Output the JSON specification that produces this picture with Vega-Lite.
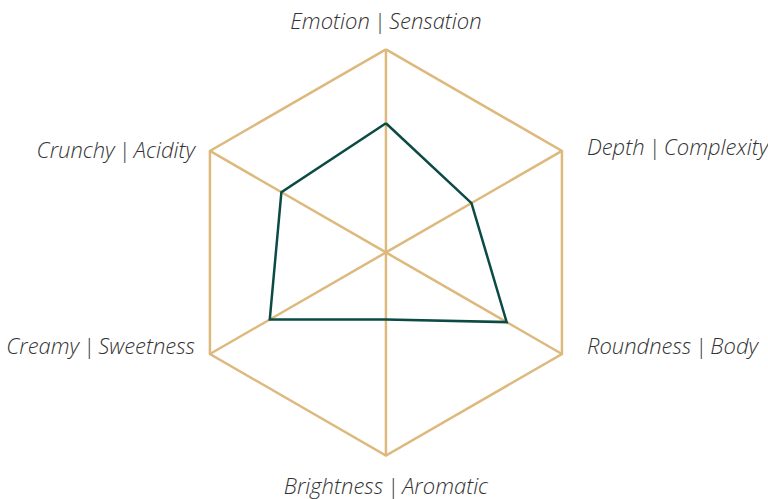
{
  "$schema": "https://vega.github.io/schema/vega-lite/v6.json",
  "width": 768,
  "height": 499,
  "autosize": {"type": "fit", "contains": "padding"},
  "padding": 0,
  "background": "white",
  "config": {"view": {"stroke": null}},
  "datasets": {
    "scores": [
      {"axis": "Emotion | Sensation", "i": 0, "score": 6.36},
      {"axis": "Depth | Complexity", "i": 1, "score": 4.86},
      {"axis": "Roundness | Body", "i": 2, "score": 6.86},
      {"axis": "Brightness | Aromatic", "i": 3, "score": 3.3},
      {"axis": "Creamy | Sweetness", "i": 4, "score": 6.6},
      {"axis": "Crunchy | Acidity", "i": 5, "score": 5.94},
      {"axis": "Emotion | Sensation", "i": 6, "score": 6.36}
    ],
    "axes": [
      {"axis": "Emotion\u2009|\u2009Sensation", "i": 0, "side": "top"},
      {"axis": "Depth\u2009|\u2009Complexity", "i": 1, "side": "right"},
      {"axis": "Roundness\u2009|\u2009Body", "i": 2, "side": "right"},
      {"axis": "Brightness\u2009|\u2009Aromatic", "i": 3, "side": "bottom"},
      {"axis": "Creamy\u2009|\u2009Sweetness", "i": 4, "side": "left"},
      {"axis": "Crunchy\u2009|\u2009Acidity", "i": 5, "side": "left"},
      {"axis": "Emotion\u2009|\u2009Sensation", "i": 6, "side": "none"}
    ]
  },
  "layer": [
    {
      "data": {"name": "axes"},
      "transform": [
        {"calculate": "sin(datum.i * PI / 3)", "as": "x"},
        {"calculate": "cos(datum.i * PI / 3)", "as": "y"}
      ],
      "mark": {"type": "line", "stroke": "#DDB97D", "strokeWidth": 2.5, "strokeJoin": "miter", "interpolate": "linear"},
      "encoding": {
        "x": {"field": "x", "type": "quantitative", "scale": {"domain": [-1.899, 1.875], "nice": false, "zero": false}, "axis": null},
        "y": {"field": "y", "type": "quantitative", "scale": {"domain": [-1.209, 1.243], "nice": false, "zero": false}, "axis": null},
        "order": {"field": "i", "type": "quantitative"}
      }
    },
    {
      "data": {"name": "axes"},
      "transform": [
        {"filter": "datum.i < 6"},
        {"calculate": "sin(datum.i * PI / 3)", "as": "x"},
        {"calculate": "cos(datum.i * PI / 3)", "as": "y"},
        {"calculate": "0", "as": "x0"},
        {"calculate": "0", "as": "y0"}
      ],
      "mark": {"type": "rule", "stroke": "#DDB97D", "strokeWidth": 2.5},
      "encoding": {
        "x": {"field": "x0", "type": "quantitative"},
        "y": {"field": "y0", "type": "quantitative"},
        "x2": {"field": "x"},
        "y2": {"field": "y"}
      }
    },
    {
      "data": {"name": "scores"},
      "transform": [
        {"calculate": "datum.score / 10 * sin(datum.i * PI / 3)", "as": "x"},
        {"calculate": "datum.score / 10 * cos(datum.i * PI / 3)", "as": "y"}
      ],
      "mark": {"type": "line", "stroke": "#0B4A45", "strokeWidth": 2.5, "strokeJoin": "miter"},
      "encoding": {
        "x": {"field": "x", "type": "quantitative"},
        "y": {"field": "y", "type": "quantitative"},
        "order": {"field": "i", "type": "quantitative"}
      }
    },
    {
      "data": {"name": "axes"},
      "transform": [
        {"filter": "datum.side == 'top' || datum.side == 'bottom'"},
        {"calculate": "sin(datum.i * PI / 3)", "as": "x"},
        {"calculate": "datum.side == 'top' ? 1.137 : -1.155", "as": "y"}
      ],
      "mark": {"type": "text", "align": "center", "baseline": "middle", "font": "Open Sans", "fontStyle": "italic", "fontWeight": 300, "fontSize": 22, "color": "#333333"},
      "encoding": {
        "x": {"field": "x", "type": "quantitative"},
        "y": {"field": "y", "type": "quantitative"},
        "text": {"field": "axis"}
      }
    },
    {
      "data": {"name": "axes"},
      "transform": [
        {"filter": "datum.side == 'right'"},
        {"calculate": "sin(datum.i * PI / 3)", "as": "x"},
        {"calculate": "datum.i == 1 ? 0.516 : -0.467", "as": "y"}
      ],
      "mark": {"type": "text", "align": "left", "baseline": "middle", "dx": 25, "font": "Open Sans", "fontStyle": "italic", "fontWeight": 300, "fontSize": 22, "color": "#333333"},
      "encoding": {
        "x": {"field": "x", "type": "quantitative"},
        "y": {"field": "y", "type": "quantitative"},
        "text": {"field": "axis"}
      }
    },
    {
      "data": {"name": "axes"},
      "transform": [
        {"filter": "datum.side == 'left'"},
        {"calculate": "sin(datum.i * PI / 3)", "as": "x"},
        {"calculate": "datum.i == 5 ? 0.501 : -0.467", "as": "y"}
      ],
      "mark": {"type": "text", "align": "right", "baseline": "middle", "dx": -15, "font": "Open Sans", "fontStyle": "italic", "fontWeight": 300, "fontSize": 22, "color": "#333333"},
      "encoding": {
        "x": {"field": "x", "type": "quantitative"},
        "y": {"field": "y", "type": "quantitative"},
        "text": {"field": "axis"}
      }
    }
  ]
}
